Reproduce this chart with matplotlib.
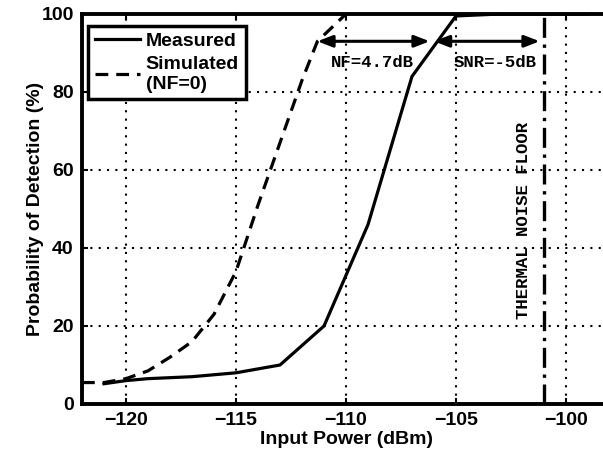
import matplotlib
matplotlib.use("Agg")
import matplotlib.pyplot as plt

# --- data ---
meas_x = [-121, -120, -119, -117, -115, -113, -111, -109, -107, -105, -103, -101, -99]
meas_y = [5.2, 6.0, 6.5, 7.0, 8.0, 10.0, 20.0, 46.0, 84.0, 99.5, 100, 100, 100]

sim_x = [-122, -121, -120, -119, -118, -117, -116, -115, -114, -113, -112, -111.3, -110]
sim_y = [5.5, 5.5, 6.5, 8.5, 12.0, 16.0, 23.0, 34.0, 51.0, 67.0, 83.0, 93.0, 100]

noise_floor = -101.0
arrow_y = 93
nf_span = (-111.3, -106.2)
snr_span = (-106.0, -101.2)

xticks = [-120, -115, -110, -105, -100]
yticks = [0, 20, 40, 60, 80, 100]

plt.rcParams['font.family'] = ['Liberation Sans', 'DejaVu Sans']
plt.rcParams['font.weight'] = 'bold'

fig = plt.figure(figsize=(6.03, 4.54), dpi=100)
ax = fig.add_axes([82 / 603, 50 / 454, 528 / 603, 390 / 454])

ax.plot(meas_x, meas_y, color='black', lw=2.3, label='Measured', zorder=4)
ax.plot(sim_x, sim_y, color='black', lw=2.3, ls=(0, (4, 2.5)), label='Simulated\n(NF=0)', zorder=4)

# thermal noise floor marker
ax.axvline(noise_floor, color='black', lw=2.4, ls=(0, (6, 2, 1, 2)), zorder=3)
ax.text(noise_floor - 0.95, 47, 'THERMAL NOISE FLOOR', rotation=90, ha='center', va='center',
        family='Liberation Mono', fontsize=12.5, fontweight='bold')

# double arrows
arrow_kw = dict(arrowstyle='<|-|>,head_length=0.9,head_width=0.35', color='black', lw=2.2,
                shrinkA=0, shrinkB=0)
ax.annotate('', xy=(nf_span[0], arrow_y), xytext=(nf_span[1], arrow_y), arrowprops=arrow_kw)
ax.annotate('', xy=(snr_span[0], arrow_y), xytext=(snr_span[1], arrow_y), arrowprops=arrow_kw)
ax.text(-108.8, 87.5, 'NF=4.7dB', ha='center', va='center', family='Liberation Mono',
        fontsize=12.5, fontweight='bold')
ax.text(-103.2, 87.5, 'SNR=-5dB', ha='center', va='center', family='Liberation Mono',
        fontsize=12.5, fontweight='bold')

ax.set_xlim(-122, -98)
ax.set_ylim(0, 100)
ax.set_xticks(xticks)
ax.set_yticks(yticks)
ax.tick_params(direction='in', length=4, width=1.5, labelsize=14, top=True, right=True, pad=6)
ax.grid(True, color='black', ls=(0, (1, 3)), lw=1.5)
for sp in ax.spines.values():
    sp.set_linewidth(2.8)

ax.set_xlabel('Input Power (dBm)', fontsize=14, fontweight='bold', labelpad=1)
ax.set_ylabel('Probability of Detection (%)', fontsize=14, fontweight='bold', labelpad=-2)

leg = ax.legend(loc='upper left', bbox_to_anchor=(0.012, 0.97), fontsize=14, frameon=True,
                fancybox=False, edgecolor='black', framealpha=1, handlelength=2.3,
                handletextpad=0.3, labelspacing=0.3, borderpad=0.35, borderaxespad=0)
leg.get_frame().set_linewidth(2.5)

fig.savefig('out.png', dpi=100)
